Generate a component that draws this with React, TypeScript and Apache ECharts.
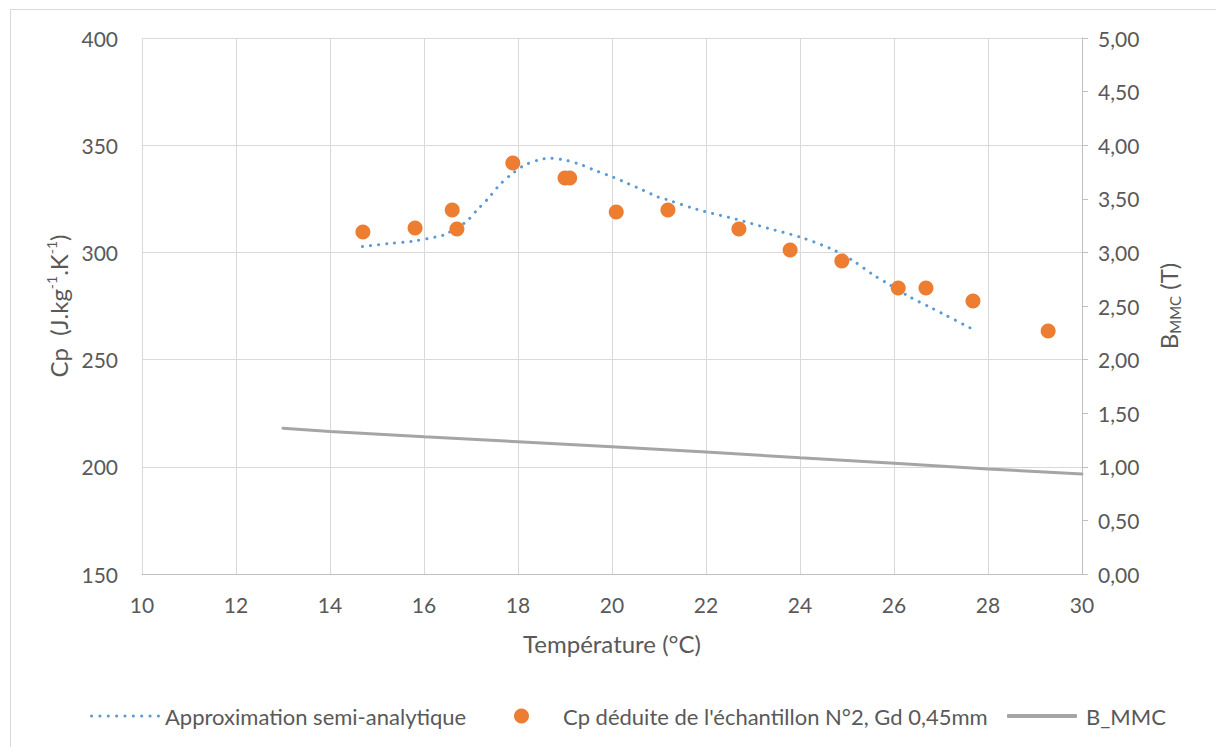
import React, { useEffect, useRef } from "react";
import * as echarts from "echarts";

// Approximation semi-analytique (dotted curve): [T °C, Cp]
const approxT = [14.69, 15.23, 15.76, 16.27, 16.45, 16.89, 17.13, 17.38, 17.6, 17.87, 18.15, 18.49, 18.67, 19.01, 19.34, 19.67, 20.01, 20.33, 20.65, 20.96, 21.14, 21.8, 22.65, 23.33, 24.02, 24.67, 25.13, 25.56, 25.88, 26.33, 26.79, 27.11, 27.62];
const approxCp = [302.7, 304.1, 305.2, 307.3, 308.4, 314.2, 319.8, 325.5, 331.3, 336.6, 340.8, 343.4, 343.9, 343.0, 340.9, 338.0, 335.2, 332.2, 329.1, 326.0, 324.8, 320.1, 315.4, 311.2, 307.0, 301.6, 296.1, 289.5, 285.3, 279.3, 274.2, 270.6, 264.8];

// Cp déduite de l'échantillon N°2
const sampleT = [14.7, 15.81, 16.6, 16.7, 17.89, 19.0, 19.1, 20.09, 21.19, 22.7, 23.79, 24.89, 26.09, 26.68, 27.68, 29.28];
const sampleCp = [309.5, 311.4, 319.8, 310.9, 341.7, 334.7, 334.7, 318.8, 319.8, 310.9, 301.1, 296.0, 283.4, 283.4, 277.3, 263.3];

// B_MMC (T)
const bT = [13, 14, 16, 18, 20, 22, 24, 26, 28, 30];
const bVal = [1.36, 1.33, 1.28, 1.234, 1.188, 1.138, 1.085, 1.033, 0.98, 0.933];

const xTicks = { min: 10, max: 30, interval: 2 };
const yLeft = { min: 150, max: 400, interval: 50 };
const yRight = { min: 0, max: 5, interval: 0.5 };

const FONT = "Lato";
const LABEL = "#595959";
const GRID = "#d9d9d9";
const TICK_FS = 21;
const TITLE_FS = 24;
const LEGEND_FS = 22;

// legend icon: a row of round dots
const dotsPath =
  "path://" +
  Array.from({ length: 9 }, (_, i) => {
    const x = i * 8;
    return `M${x},1.5a1.5,1.5 0 1,0 3,0a1.5,1.5 0 1,0 -3,0Z`;
  }).join("");

export default function App() {
  const ref = useRef<HTMLDivElement>(null);
  useEffect(() => {
    if (!ref.current) return;
    const chart = echarts.init(ref.current, undefined, { renderer: "svg" });
    const zip = (a: number[], b: number[]) => a.map((v, i) => [v, b[i]]);
    chart.setOption({
      animation: false,
      backgroundColor: "#ffffff",
      textStyle: { fontFamily: FONT, color: LABEL },
      graphic: [
        {
          type: "rect",
          shape: { x: 10.5, y: 9.5, width: 1220, height: 750 },
          style: { fill: "none", stroke: GRID, lineWidth: 1 },
          silent: true,
          z: -10,
        },
      ],
      grid: { left: 142, right: 134, top: 38, bottom: 173 },
      xAxis: {
        type: "value",
        min: xTicks.min,
        max: xTicks.max,
        interval: xTicks.interval,
        name: "Température (°C)",
        nameLocation: "middle",
        nameGap: 57,
        nameTextStyle: { fontSize: TITLE_FS, color: LABEL, fontFamily: FONT },
        axisLine: { show: true, onZero: false, lineStyle: { color: "#bfbfbf", width: 1 } },
        axisTick: { show: false },
        axisLabel: { fontSize: TICK_FS, color: LABEL, margin: 20, fontFamily: FONT },
        splitLine: { show: true, lineStyle: { color: GRID, width: 1 } },
      },
      yAxis: [
        {
          type: "value",
          min: yLeft.min,
          max: yLeft.max,
          interval: yLeft.interval,
          position: "left",
          name: "{a|Cp  (J.kg}{s|-1}{a|.K}{s|-1}{a|)}",
          nameLocation: "middle",
          nameRotate: 90,
          nameGap: 66,
          nameTextStyle: {
            rich: {
              a: { fontSize: TITLE_FS, color: LABEL, fontFamily: FONT, lineHeight: 28 },
              s: { fontSize: 14, color: LABEL, fontFamily: FONT, lineHeight: 28, verticalAlign: "top" },
            },
          },
          axisLine: { show: false },
          axisTick: { show: false },
          axisLabel: { fontSize: TICK_FS, color: LABEL, margin: 24, fontFamily: FONT },
          splitLine: { show: true, lineStyle: { color: GRID, width: 1 } },
        },
        {
          type: "value",
          min: yRight.min,
          max: yRight.max,
          interval: yRight.interval,
          position: "right",
          name: "{a|B}{s|MMC}{a| (T)}",
          nameLocation: "middle",
          nameRotate: 90,
          nameGap: 72,
          nameTextStyle: {
            rich: {
              a: { fontSize: TITLE_FS, color: LABEL, fontFamily: FONT, lineHeight: 28 },
              s: { fontSize: 15, color: LABEL, fontFamily: FONT, lineHeight: 28, verticalAlign: "bottom" },
            },
          },
          axisLine: { show: true, lineStyle: { color: "#bfbfbf", width: 1 } },
          axisTick: { show: true, inside: false, length: 6, lineStyle: { color: "#bfbfbf" } },
          axisLabel: {
            fontSize: TICK_FS,
            color: LABEL,
            margin: 16,
            fontFamily: FONT,
            formatter: (v: number) => v.toFixed(2).replace(".", ","),
          },
          splitLine: { show: false },
        },
      ],
      legend: [
        {
          left: 85,
          top: 700,
          itemWidth: 70,
          itemHeight: 14,
          data: [{ name: "Approximation semi-analytique", icon: dotsPath }],
          textStyle: { fontSize: LEGEND_FS, color: LABEL, fontFamily: FONT },
        },
        {
          left: 509,
          top: 700,
          itemWidth: 15,
          itemHeight: 15,
          data: [{ name: "Cp déduite de l'échantillon N°2, Gd 0,45mm", icon: "circle" }],
          textStyle: { fontSize: LEGEND_FS, color: LABEL, fontFamily: FONT, padding: [0, 0, 0, 29] },
        },
        {
          left: 1002,
          top: 700,
          itemWidth: 70,
          itemHeight: 4,
          data: [{ name: "B_MMC", icon: "roundRect" }],
          textStyle: { fontSize: LEGEND_FS, color: LABEL, fontFamily: FONT, padding: [0, 0, 0, 4] },
        },
      ],
      series: [
        {
          name: "Approximation semi-analytique",
          type: "line",
          data: zip(approxT, approxCp),
          smooth: 0.3,
          showSymbol: false,
          symbol: "none",
          lineStyle: { color: "#5B9BD5", width: 3, type: [0.1, 8], cap: "round" },
          itemStyle: { color: "#5B9BD5" },
          z: 3,
        },
        {
          name: "Cp déduite de l'échantillon N°2, Gd 0,45mm",
          type: "scatter",
          data: zip(sampleT, sampleCp),
          symbol: "circle",
          symbolSize: 15,
          itemStyle: { color: "#ED7D31", opacity: 1 },
          z: 4,
        },
        {
          name: "B_MMC",
          type: "line",
          yAxisIndex: 1,
          data: zip(bT, bVal),
          smooth: false,
          showSymbol: false,
          symbol: "none",
          lineStyle: { color: "#A5A5A5", width: 3, cap: "round" },
          itemStyle: { color: "#A5A5A5" },
          z: 2,
        },
      ],
    });
    return () => chart.dispose();
  }, []);
  return (
    <div
      ref={ref}
      style={{ position: "fixed", left: 0, top: 0, width: 1216, height: 747, background: "#fff" }}
    />
  );
}
